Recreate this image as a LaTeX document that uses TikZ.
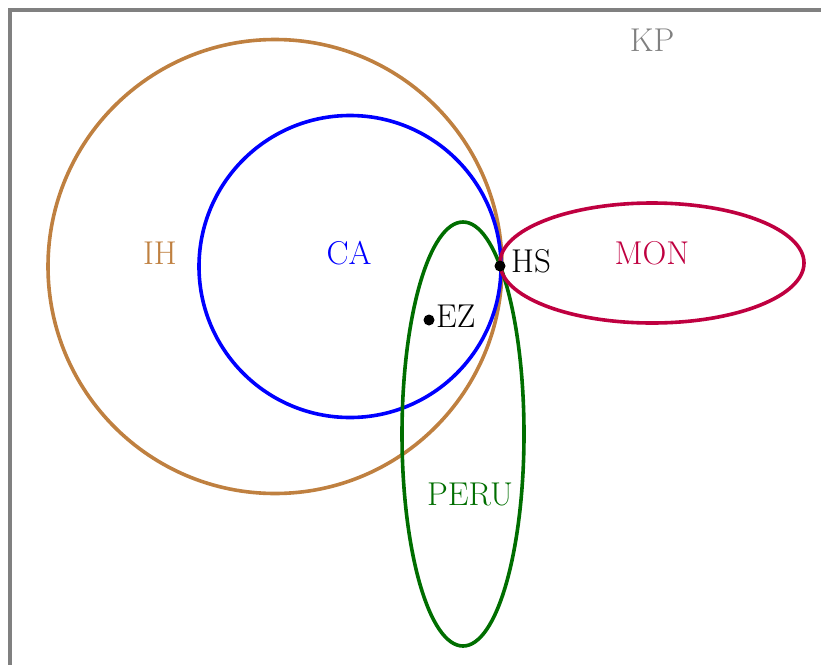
\documentclass[tikz,border=0pt]{standalone}
\usepackage{fontspec}
\definecolor{ihcol}{RGB}{191,128,64}
\definecolor{moncol}{RGB}{191,0,64}
\definecolor{perucol}{RGB}{0,110,0}
\definecolor{kpcol}{RGB}{128,128,128}
\tikzset{
  setline/.style={line width=3.6pt},
  lbl/.style={inner sep=0pt, font=\fontsize{33}{38}\selectfont},
  dotpt/.style={circle, fill=black, inner sep=0pt, minimum size=11pt}
}
\begin{document}
\begin{tikzpicture}[x=1pt,y=-1pt]
\useasboundingbox (0,0) rectangle (821,664);
\begin{scope}
\clip (0,0) rectangle (821,664);
\draw[kpcol, line width=4pt] (10,700) -- (10,10) -- (860,10);
\end{scope}
\draw[setline, ihcol] (275,266.5) circle [radius=227pt];
\draw[setline, blue] (350,266.5) circle [radius=151pt];
\draw[setline, perucol] (463,434) ellipse [x radius=61pt, y radius=212pt];
\draw[setline, moncol] (652,263) ellipse [x radius=152pt, y radius=60pt];
\node[lbl, text=kpcol] (kp) at (652,40) {KP};
\node[lbl, text=ihcol] (ih) at (160,253) {IH};
\node[lbl, text=blue] (ca) at (349,253) {CA};
\node[lbl, text=moncol] (mon) at (652,253) {MON};
\node[lbl, text=perucol] (peru) at (470,494) {PERU};
\node[dotpt] (hs) at (500,266) {};
\node[lbl, anchor=west] (hslbl) at (511,261) {HS};
\node[dotpt] (ez) at (429,320) {};
\node[lbl, anchor=west] (ezlbl) at (436,316) {EZ};
\end{tikzpicture}
\end{document}
